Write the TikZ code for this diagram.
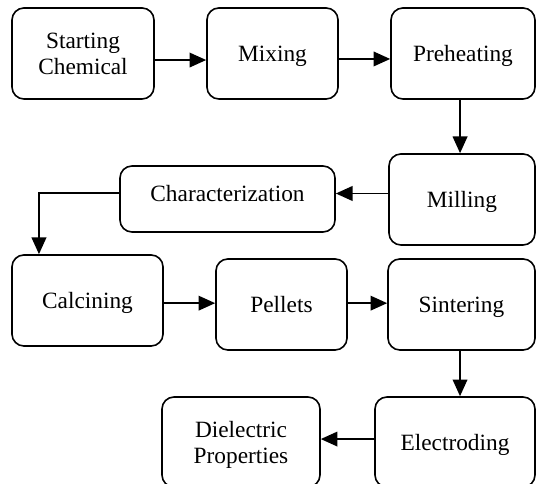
\documentclass[tikz,border=0pt]{standalone}
\usepackage{fontspec}
\setmainfont{Liberation Serif}
\usepackage{tikz}
\usetikzlibrary{calc,positioning,arrows.meta}
\tikzset{
stage/.style={draw, line width=1.2pt, rounded corners=9pt, align=center, inner sep=0pt, text depth=0pt, font=\fontsize{17.5}{19.5}\selectfont}, % process boxes
flow/.style={line width=1.2pt, -{Triangle[length=12.5pt,width=11pt]}}, % connecting arrows
}

\begin{document}
\begin{tikzpicture}[x=0.75pt,y=0.75pt,yscale=-1,xscale=1]
\useasboundingbox (0,0) rectangle (537,484);
%Top row
\node[stage, minimum width=106.5pt, minimum height=68.3pt] (start) at (83,53.5) {Starting\\Chemical};
\node[stage, minimum width=98.3pt, minimum height=68.3pt] (mix) at (272.5,53.5) {Mixing};
\node[stage, minimum width=108pt, minimum height=68.3pt] (preheat) at (463,53.5) {Preheating};
%Second row
\node[stage, minimum width=109.5pt, minimum height=68.3pt] (mill) at (462,199.5) {Milling};
\node[stage, minimum width=161.3pt, minimum height=49.5pt, text height=12pt, text depth=8.5pt] (char) at (227.5,199) {Characterization};
%Third row
\node[stage, minimum width=113.3pt, minimum height=68.3pt] (calc) at (87.5,300.5) {Calcining};
\node[stage, minimum width=98.3pt, minimum height=68.3pt] (pellet) at (281.5,304.5) {Pellets};
\node[stage, minimum width=110.3pt, minimum height=68.3pt] (sinter) at (461.5,304.5) {Sintering};
%Bottom row
\node[stage, minimum width=120pt, minimum height=67.5pt] (electro) at (455,442) {Electroding};
\node[stage, minimum width=118.5pt, minimum height=67.5pt] (diel) at (241,442) {Dielectric\\Properties};
%Arrows
\draw[flow] ([yshift=4.9pt]start.east) -- ([yshift=4.9pt]mix.west);
\draw[flow] ([yshift=4.1pt]mix.east) -- ([yshift=4.1pt]preheat.west);
\draw[flow] ([xshift=-2.2pt]preheat.south) -- ([xshift=-2.2pt]preheat.south |- mill.north);
\draw[flow] ([yshift=-4.5pt]mill.west) -- ([yshift=-4.5pt]mill.west -| char.east);
\draw[flow] ([yshift=-4.5pt]char.west) -| ([xshift=-36.4pt]calc.north);
\draw[flow] ([yshift=2pt]calc.east) -- ([yshift=2pt]calc.east -| pellet.west);
\draw[flow] ([yshift=-1pt]pellet.east) -- ([yshift=-1pt]sinter.west);
\draw[flow] ([xshift=-1.1pt]sinter.south) -- ([xshift=-1.1pt]sinter.south |- electro.north);
\draw[flow] ([yshift=-2.2pt]electro.west) -- ([yshift=-2.2pt]diel.east);
\end{tikzpicture}
\end{document}
